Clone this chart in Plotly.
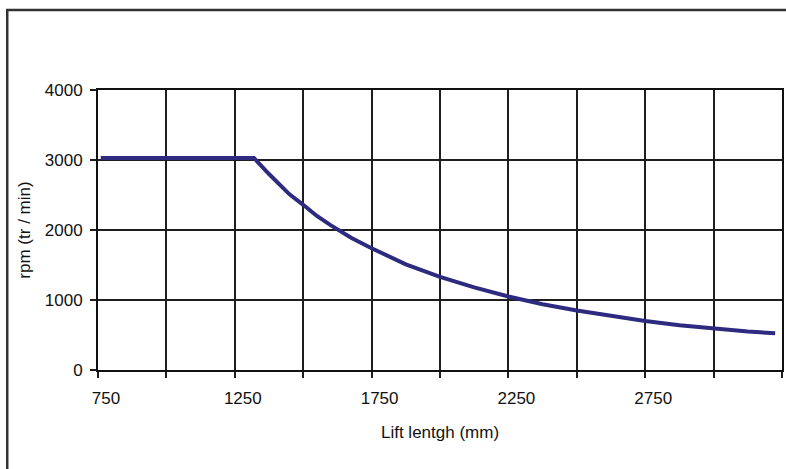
import plotly.graph_objects as go

# lift length (mm) and max speed (rpm)
lift_length = [760, 1000, 1250, 1320, 1375, 1450, 1500, 1550, 1600, 1675, 1750,
               1875, 2000, 2125, 2250, 2375, 2500, 2625, 2750, 2875, 3000, 3125, 3225]
rpm = [3030, 3030, 3030, 3030, 2800, 2510, 2360, 2200, 2070, 1890, 1740,
       1510, 1330, 1180, 1050, 940, 850, 770, 700, 640, 590, 550, 525]

x_ticks = [750, 1000, 1250, 1500, 1750, 2000, 2250, 2500, 2750, 3000, 3250]
x_labels = ["750", "", "1250", "", "1750", "", "2250", "", "2750", "", ""]
y_ticks = [0, 1000, 2000, 3000, 4000]

font = "Liberation Sans, Arial, Helvetica, sans-serif"
grid_col = "#1e1e1e"

fig = go.Figure()
fig.add_trace(go.Scatter(x=lift_length, y=rpm, mode="lines",
                         line=dict(color="#2d2a80", width=4), showlegend=False))

fig.update_xaxes(range=[750, 3250], tickvals=x_ticks, ticktext=x_labels,
                 ticks="outside", ticklen=6, tickwidth=1.5, tickcolor=grid_col,
                 showgrid=True, gridcolor=grid_col, gridwidth=1.5,
                 showline=True, linecolor="#111", linewidth=2, mirror=True,
                 zeroline=False, ticklabelshift=8, ticklabelstandoff=6,
                 tickfont=dict(size=17),
                 title=dict(text="Lift lentgh (mm)", standoff=19,
                            font=dict(size=17)))
fig.update_yaxes(range=[0, 4000], tickvals=y_ticks,
                 ticks="outside", ticklen=6, tickwidth=1.5, tickcolor=grid_col,
                 showgrid=True, gridcolor=grid_col, gridwidth=1.5,
                 showline=True, linecolor="#111", linewidth=2, mirror=True,
                 zeroline=False, ticklabelstandoff=4,
                 tickfont=dict(size=17),
                 title=dict(text="rpm (tr / min)", standoff=10,
                            font=dict(size=17)))

# outer chart frame (cropped on the right and bottom in the original)
fig.add_shape(type="rect", xref="paper", yref="paper",
              x0=-0.1327, x1=1.03, y0=-0.45, y1=1.2857,
              line=dict(color="#333", width=2.5), layer="above")

fig.update_layout(width=786, height=469,
                  margin=dict(l=98, r=2, t=90, b=99),
                  paper_bgcolor="white", plot_bgcolor="white",
                  font=dict(family=font, size=17, color="#111"))

fig.write_html("out.html", config={"displayModeBar": False},
               post_script="document.body.style.margin='0';")
